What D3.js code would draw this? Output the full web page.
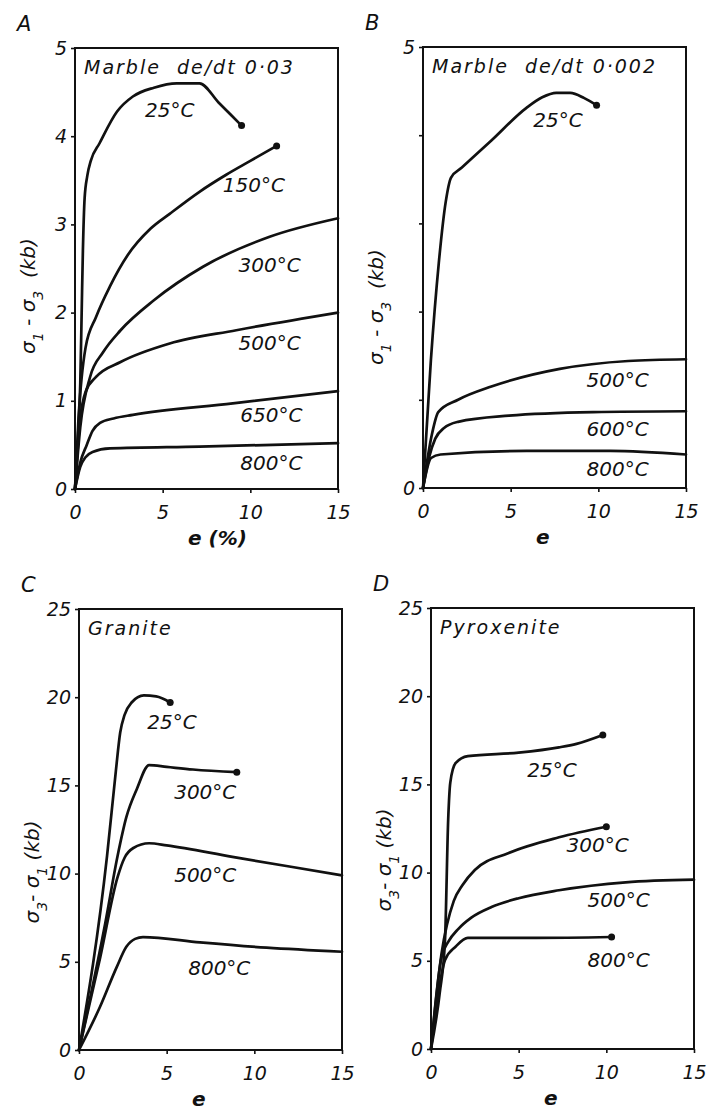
<!DOCTYPE html>
<html>
<head>
<meta charset="utf-8">
<script src="https://cdn.jsdelivr.net/npm/d3@7"></script>
<style>
  body { margin: 0; background: #fff; }
  svg text { font-family: "DejaVu Sans", sans-serif; font-style: italic; fill: #111; }
  .curve { fill: none; stroke: #111; stroke-width: 2.7; stroke-linejoin: round; stroke-linecap: round; }
  .frame { fill: none; stroke: #111; stroke-width: 2; }
  .tick line { stroke: #111; stroke-width: 1.6; }
  .tick text { font-size: 19px; }
  .templabel { font-size: 20px; }
  .paneltitle { font-size: 19px; letter-spacing: 2px; }
  .letter { font-size: 21px; }
  .ytitle { font-size: 20px; white-space: pre; }
  .xtitle { font-size: 20px; font-weight: bold; white-space: pre; }
</style>
</head>
<body>
<svg id="fig"></svg>
<script>
// ---- data: [strain e, differential stress kb] ----
var strainTicks = [0, 5, 10, 15];
var marbleTicks = [0, 1, 2, 3, 4, 5];
var rockTicks = [0, 5, 10, 15, 20, 25];

// A: marble, de/dt 0.03
var marbleFastTemps = ["25°C", "150°C", "300°C", "500°C", "650°C", "800°C"];
var marbleFast25 = [[0,0],[0.2,0.7],[0.3,1.2],[0.38,2.0],[0.45,2.7],[0.55,3.3],[0.7,3.55],[0.9,3.72],[1.4,3.92],[2.4,4.28],[3.3,4.45],[4.5,4.55],[5.8,4.6],[7.1,4.6],[8.2,4.38],[9.5,4.12]];
var marbleFast150 = [[0,0],[0.2,0.8],[0.6,1.6],[1.2,1.95],[2.0,2.3],[3.0,2.65],[4.3,2.95],[5.4,3.12],[7.1,3.37],[8.6,3.56],[10,3.72],[11.5,3.89]];
var marbleFast300 = [[0,0],[0.3,0.7],[0.86,1.27],[1.6,1.55],[2.6,1.8],[4.5,2.14],[7.3,2.52],[11.1,2.86],[15,3.07]];
var marbleFast500 = [[0,0],[0.3,0.8],[0.6,1.1],[1.2,1.27],[2.6,1.44],[5.4,1.65],[9.2,1.8],[15,2.0]];
var marbleFast650 = [[0,0],[0.3,0.3],[0.67,0.5],[1.0,0.66],[1.43,0.75],[2.2,0.8],[3.3,0.84],[9,0.97],[15,1.11]];
var marbleFast800 = [[0,0],[0.3,0.25],[0.6,0.36],[1.0,0.42],[2.0,0.46],[7.1,0.48],[15,0.52]];
var marbleFastLabelAt = [[5.4,4.3],[10.2,3.45],[11.1,2.54],[11.1,1.66],[11.2,0.84],[11.2,0.29]];

// B: marble, de/dt 0.002
var marbleSlowTemps = ["25°C", "500°C", "600°C", "800°C"];
var marbleSlow25 = [[0,0],[0.45,1.45],[0.9,2.55],[1.3,3.25],[1.6,3.52],[2.2,3.63],[3.9,3.94],[5.9,4.31],[6.8,4.43],[7.6,4.48],[8.4,4.48],[9.2,4.42],[9.9,4.34]];
var marbleSlow500 = [[0,0],[0.5,0.6],[0.87,0.86],[2.0,1.0],[3.9,1.15],[7.8,1.35],[11.7,1.44],[15,1.46]];
var marbleSlow600 = [[0,0],[0.35,0.35],[0.7,0.56],[1.2,0.68],[2.0,0.75],[4.9,0.82],[9.7,0.86],[15,0.87]];
var marbleSlow800 = [[0,0],[0.46,0.34],[1.0,0.38],[5.9,0.42],[10.7,0.42],[15,0.38]];
var marbleSlowLabelAt = [[7.7,4.17],[11.1,1.23],[11.1,0.67],[11.1,0.21]];

// C: granite
var graniteTemps = ["25°C", "300°C", "500°C", "800°C"];
var granite25 = [[0,0],[1.6,11],[2.1,15.8],[2.35,18.0],[2.6,19.0],[3.0,19.7],[3.7,20.1],[4.4,20.05],[5.2,19.7]];
var granite300 = [[0,0],[1.5,7.2],[2.2,11],[2.7,13.2],[3.3,14.8],[4.0,16.15],[5.0,16.05],[6.5,15.9],[9.0,15.75]];
var granite500 = [[0,0],[1.2,5.2],[2.2,9.8],[2.6,10.9],[3.1,11.45],[4.0,11.72],[5.0,11.6],[8.75,10.95],[12,10.4],[15,9.9]];
var granite800 = [[0,0],[1.2,2.45],[2.15,4.7],[2.7,5.85],[3.2,6.3],[3.65,6.4],[6.9,6.1],[10.7,5.8],[15,5.57]];
var graniteLabelAt = [[5.3,18.6],[7.2,14.6],[7.2,9.9],[8.0,4.65]];

// D: pyroxenite
var pyroxTemps = ["25°C", "300°C", "500°C", "800°C"];
var pyrox25 = [[0,0],[0.5,3.2],[0.8,6.2],[0.98,13],[1.1,15.1],[1.4,16.2],[2.1,16.6],[5,16.8],[7.3,17.1],[8.3,17.3],[9.8,17.8]];
var pyrox300 = [[0,0],[0.6,5.4],[1.3,8.4],[1.8,9.3],[2.5,10.15],[4.4,11.1],[7.3,12.0],[10,12.6]];
var pyrox500 = [[0,0],[0.6,5.2],[1.0,6.1],[1.55,6.8],[2.3,7.45],[3.45,8.05],[5,8.55],[7.3,9.0],[11.1,9.45],[15,9.6]];
var pyrox800 = [[0,0],[0.8,5.05],[1.4,5.8],[2.1,6.3],[6,6.3],[10.3,6.35]];
var pyroxLabelAt = [[6.9,15.8],[9.5,11.56],[10.7,8.45],[10.7,5.05]];

// ---- layout ----
var screen = { width: 708, height: 1112 };
var graph = { width: 263, height: 441 };

var panels = [
  { letter: "A", left: 75, top: 48, yMax: 5, yTicks: marbleTicks, labelEvery: 1,
    title: "Marble  de/dt 0·03", ytitle: ["σ", "1", " - σ", "3", "  (kb)"], ytitleY: 248, xtitle: "e (%)",
    curves: [marbleFast25, marbleFast150, marbleFast300, marbleFast500, marbleFast650, marbleFast800],
    dots: [true, true, false, false, false, false],
    temps: marbleFastTemps, labelAt: marbleFastLabelAt },
  { letter: "B", left: 423, top: 47, yMax: 5, yTicks: marbleTicks, labelEvery: 5,
    title: "Marble  de/dt 0·002", ytitle: ["σ", "1", " - σ", "3", "  (kb)"], ytitleY: 260, xtitle: "e",
    curves: [marbleSlow25, marbleSlow500, marbleSlow600, marbleSlow800],
    dots: [true, false, false, false],
    temps: marbleSlowTemps, labelAt: marbleSlowLabelAt },
  { letter: "C", left: 79, top: 609, yMax: 25, yTicks: rockTicks, labelEvery: 5,
    title: "Granite", ytitle: ["σ", "3", "- σ", "1", " (kb)"], ytitleY: 263, xtitle: "e",
    curves: [granite25, granite300, granite500, granite800],
    dots: [true, true, false, false],
    temps: graniteTemps, labelAt: graniteLabelAt },
  { letter: "D", left: 431, top: 608, yMax: 25, yTicks: rockTicks, labelEvery: 5,
    title: "Pyroxenite", ytitle: ["σ", "3", "- σ", "1", " (kb)"], ytitleY: 252, xtitle: "e",
    curves: [pyrox25, pyrox300, pyrox500, pyrox800],
    dots: [true, true, false, true],
    temps: pyroxTemps, labelAt: pyroxLabelAt }
];

var svg = d3.select("#fig").attr("width", screen.width).attr("height", screen.height);

var drawPanel = function (p) {
  var g = svg.append("g").attr("transform", "translate(" + p.left + "," + p.top + ")");

  var xScale = d3.scaleLinear().domain([0, 15]).range([0, graph.width]);
  var yScale = d3.scaleLinear().domain([0, p.yMax]).range([graph.height, 0]);

  // axes (ticks only, frame drawn as a rect)
  g.append("g")
    .attr("transform", "translate(0," + graph.height + ")")
    .call(d3.axisBottom(xScale).tickValues(strainTicks).tickSize(4).tickPadding(13))
    .call(function (a) { a.select(".domain").remove(); });

  g.append("g")
    .call(d3.axisLeft(yScale).tickValues(p.yTicks).tickSize(4).tickPadding(4)
      .tickFormat(function (d) { return (d % p.labelEvery === 0) ? d : ""; }))
    .call(function (a) { a.select(".domain").remove(); });

  g.append("rect").classed("frame", true)
    .attr("x", 0).attr("y", 0)
    .attr("width", graph.width).attr("height", graph.height);

  // curves
  var line = d3.line()
    .x(function (d) { return xScale(d[0]); })
    .y(function (d) { return yScale(d[1]); })
    .curve(d3.curveMonotoneX);

  g.selectAll("path.curve").data(p.curves).enter()
    .append("path").classed("curve", true)
    .attr("d", line);

  var ends = p.curves.filter(function (c, i) { return p.dots[i]; })
    .map(function (c) { return c[c.length - 1]; });
  g.selectAll("circle.end").data(ends).enter()
    .append("circle").classed("end", true)
    .attr("cx", function (d) { return xScale(d[0]); })
    .attr("cy", function (d) { return yScale(d[1]); })
    .attr("r", 3.5).attr("fill", "#111");

  // temperature labels
  g.selectAll("text.templabel").data(p.temps).enter()
    .append("text").classed("templabel", true)
    .attr("text-anchor", "middle")
    .attr("dominant-baseline", "central")
    .attr("x", function (d, i) { return xScale(p.labelAt[i][0]); })
    .attr("y", function (d, i) { return yScale(p.labelAt[i][1]); })
    .text(function (d) { return d; });

  // panel title inside frame
  g.append("text").classed("paneltitle", true)
    .attr("x", 9).attr("y", 26)
    .style("white-space", "pre")
    .text(p.title);

  // panel letter
  g.append("text").classed("letter", true)
    .attr("x", -58).attr("y", -17)
    .text(p.letter);

  // y title, rotated
  var yt = g.append("text").classed("ytitle", true)
    .attr("text-anchor", "middle")
    .attr("transform", "translate(-40," + p.ytitleY + ") rotate(-90)");
  p.ytitle.forEach(function (s, i) {
    var t = yt.append("tspan").text(s);
    if (i % 2 === 1) t.attr("baseline-shift", "sub").attr("font-size", "14px");
  });

  // x title
  g.append("text").classed("xtitle", true)
    .attr("x", 113).attr("y", graph.height + 56)
    .text(p.xtitle);
};

panels.forEach(drawPanel);
</script>
</body>
</html>
